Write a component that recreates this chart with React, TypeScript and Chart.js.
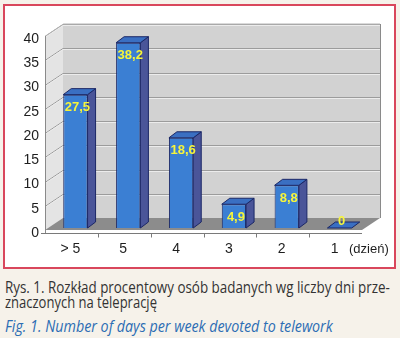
import React, { useEffect, useLayoutEffect, useRef } from "react";
import { Chart, registerables } from "chart.js";

Chart.register(...registerables);

const categories = ["> 5", "5", "4", "3", "2", "1"];
const values = [27.5, 38.2, 18.6, 4.9, 8.8, 0];
const valueLabels = ["27,5", "38,2", "18,6", "4,9", "8,8", "0"];
const yTicks = [0, 5, 10, 15, 20, 25, 30, 35, 40];
const unitLabel = "(dzień)";
const captionPl1 = "Rys. 1. Rozkład procentowy osób badanych wg liczby dni prze-";
const captionPl2 = "znaczonych na teleprację";
const captionEn = "Fig. 1.  Number of days per week devoted to telework";

const DX = 18;
const DY = -12;
const BX = 8;
const BY = -6;
const SHIFT_X = 4;
const SHIFT_Y = -2;
const FONT = '"Liberation Sans", Arial, sans-serif';

function poly(ctx: CanvasRenderingContext2D, pts: number[][]) {
  ctx.beginPath();
  ctx.moveTo(pts[0][0], pts[0][1]);
  for (let i = 1; i < pts.length; i++) ctx.lineTo(pts[i][0], pts[i][1]);
  ctx.closePath();
}

const walls3d = {
  id: "walls3d",
  beforeDatasetsDraw(chart: any) {
    const { ctx, chartArea } = chart;
    const { left, right, top, bottom } = chartArea;
    const y = chart.scales.y;
    ctx.save();
    // side wall
    ctx.fillStyle = "#e4e4e4";
    poly(ctx, [[left, top], [left + DX, top + DY], [left + DX, bottom + DY], [left, bottom]]);
    ctx.fill();
    // back wall
    ctx.fillStyle = "#d2d2d2";
    ctx.fillRect(left + DX, top + DY, right - left, bottom - top);
    // floor
    ctx.fillStyle = "#8c8c8c";
    poly(ctx, [[left, bottom], [left + DX, bottom + DY], [right + DX, bottom + DY], [right, bottom]]);
    ctx.fill();
    // grid lines
    ctx.lineWidth = 1;
    for (const v of yTicks) {
      if (v === 0) continue;
      const yp = Math.round(y.getPixelForValue(v)) + 0.5;
      ctx.strokeStyle = "#9c9c9c";
      ctx.beginPath();
      ctx.moveTo(left, yp);
      ctx.lineTo(left + DX, yp + DY);
      ctx.lineTo(right + DX, yp + DY);
      ctx.stroke();
      ctx.strokeStyle = "#ececec";
      ctx.beginPath();
      ctx.moveTo(left, yp + 1);
      ctx.lineTo(left + DX, yp + DY + 1);
      ctx.lineTo(right + DX, yp + DY + 1);
      ctx.stroke();
    }
    // edges
    ctx.strokeStyle = "#8a8a8a";
    ctx.beginPath();
    ctx.moveTo(right + DX + 0.5, top + DY);
    ctx.lineTo(right + DX + 0.5, bottom + DY);
    ctx.stroke();
    ctx.strokeStyle = "#b5b5b5";
    ctx.beginPath();
    ctx.moveTo(left + 0.5, top);
    ctx.lineTo(left + DX + 0.5, top + DY);
    ctx.lineTo(right + DX, top + DY);
    ctx.stroke();
    ctx.strokeStyle = "#8a8a8a";
    ctx.beginPath();
    ctx.moveTo(left + 0.5, top);
    ctx.lineTo(left + 0.5, bottom + 3);
    ctx.stroke();
    // x axis line + ticks
    const ya = bottom + 3.5;
    ctx.strokeStyle = "#7a7a7a";
    ctx.beginPath();
    ctx.moveTo(left - 4, ya);
    ctx.lineTo(right, ya);
    ctx.stroke();
    const cw = (right - left) / categories.length;
    for (let i = 1; i < categories.length; i++) {
      const xp = Math.round(left + i * cw) + 0.5;
      ctx.beginPath();
      ctx.moveTo(xp, ya);
      ctx.lineTo(xp, ya + 4);
      ctx.stroke();
    }
    ctx.restore();
    ctx.save();
    ctx.translate(SHIFT_X, SHIFT_Y);
  },
  afterDatasetsDraw(chart: any) {
    const { ctx } = chart;
    const meta = chart.getDatasetMeta(0);
    meta.data.forEach((bar: any, i: number) => {
      const { x, y, base, width } = bar.getProps(["x", "y", "base", "width"], true);
      const l = x - width / 2;
      const r = x + width / 2;
      ctx.lineWidth = 1;
      ctx.strokeStyle = "#1b2766";
      if (base - y > 0.5) {
        ctx.fillStyle = "#4a5599";
        poly(ctx, [[r, y], [r + BX, y + BY], [r + BX, base + BY], [r, base]]);
        ctx.fill();
        ctx.stroke();
      }
      ctx.fillStyle = "#3a6fc2";
      poly(ctx, [[l, y], [l + BX, y + BY], [r + BX, y + BY], [r, y]]);
      ctx.fill();
      ctx.stroke();
      ctx.fillStyle = "#f7f53a";
      ctx.font = `bold 13px ${FONT}`;
      ctx.textAlign = "center";
      ctx.textBaseline = "middle";
      const ly = Math.min(y + 13, base - 7);
      ctx.fillText(valueLabels[i], x + 2, ly);
    });
    ctx.restore();
  },
  afterDraw(chart: any) {
    const { ctx, chartArea } = chart;
    const { left, right, bottom } = chartArea;
    const y = chart.scales.y;
    const x = chart.scales.x;
    ctx.save();
    ctx.fillStyle = "#1e1e1e";
    ctx.font = `14px ${FONT}`;
    ctx.textBaseline = "middle";
    ctx.textAlign = "right";
    for (const v of yTicks) {
      ctx.fillText(String(v), left - 6, y.getPixelForValue(v) + 3);
    }
    ctx.textAlign = "center";
    categories.forEach((c, i) => {
      ctx.fillText(c, x.getPixelForValue(i) - 1, bottom + 19);
    });
    ctx.font = `13px ${FONT}`;
    ctx.textAlign = "left";
    ctx.fillText(unitLabel, right - 13, bottom + 19);
    ctx.restore();
  },
};

function FitLine(props: { text: string; width: number; top: number; style: any }) {
  const ref = useRef<HTMLSpanElement>(null);
  useLayoutEffect(() => {
    const el = ref.current;
    if (!el) return;
    el.style.transform = "none";
    const w = el.offsetWidth;
    if (w > 0) el.style.transform = `scaleX(${props.width / w})`;
  }, [props.text, props.width]);
  return (
    <span
      ref={ref}
      style={{
        position: "absolute",
        left: 5,
        top: props.top,
        whiteSpace: "nowrap",
        transformOrigin: "0 0",
        display: "inline-block",
        lineHeight: "18px",
        fontFamily: '"Open Sans", sans-serif',
        fontSize: 16,
        ...props.style,
      }}
    >
      {props.text}
    </span>
  );
}

export default function App() {
  const canvasRef = useRef<HTMLCanvasElement>(null);

  useEffect(() => {
    document.body.style.margin = "0";
    const canvas = canvasRef.current;
    if (!canvas) return;
    const chart = new Chart(canvas, {
      type: "bar",
      data: {
        labels: categories,
        datasets: [
          {
            data: values,
            backgroundColor: "#3b7fd3",
            borderColor: "#1b2766",
            borderWidth: 1,
            categoryPercentage: 1,
            barPercentage: 0.46,
            clip: false as any,
          },
        ],
      },
      options: {
        animation: false,
        responsive: false,
        maintainAspectRatio: false,
        layout: { padding: { left: 40, right: 32, top: 30, bottom: 37 } },
        plugins: { legend: { display: false }, tooltip: { enabled: false } },
        scales: {
          x: { display: false },
          y: { display: false, min: 0, max: 40, ticks: { stepSize: 5 } },
        },
      },
      plugins: [walls3d],
    });
    return () => chart.destroy();
  }, []);

  return (
    <div style={{ position: "relative", width: 400, height: 338, background: "#f6f2ea", overflow: "hidden" }}>
      <div
        style={{
          position: "absolute",
          left: 3,
          top: 4,
          width: 389,
          height: 261,
          border: "2px solid #d9475c",
          background: "#ffffff",
        }}
      >
        <canvas ref={canvasRef} width={389} height={261} style={{ display: "block", width: 389, height: 261 }} />
      </div>
      <FitLine text={captionPl1} width={385} top={278} style={{ color: "#333333" }} />
      <FitLine text={captionPl2} width={152} top={293} style={{ color: "#333333" }} />
      <FitLine text={captionEn} width={328} top={317} style={{ color: "#2c6db4", fontStyle: "italic" }} />
    </div>
  );
}
